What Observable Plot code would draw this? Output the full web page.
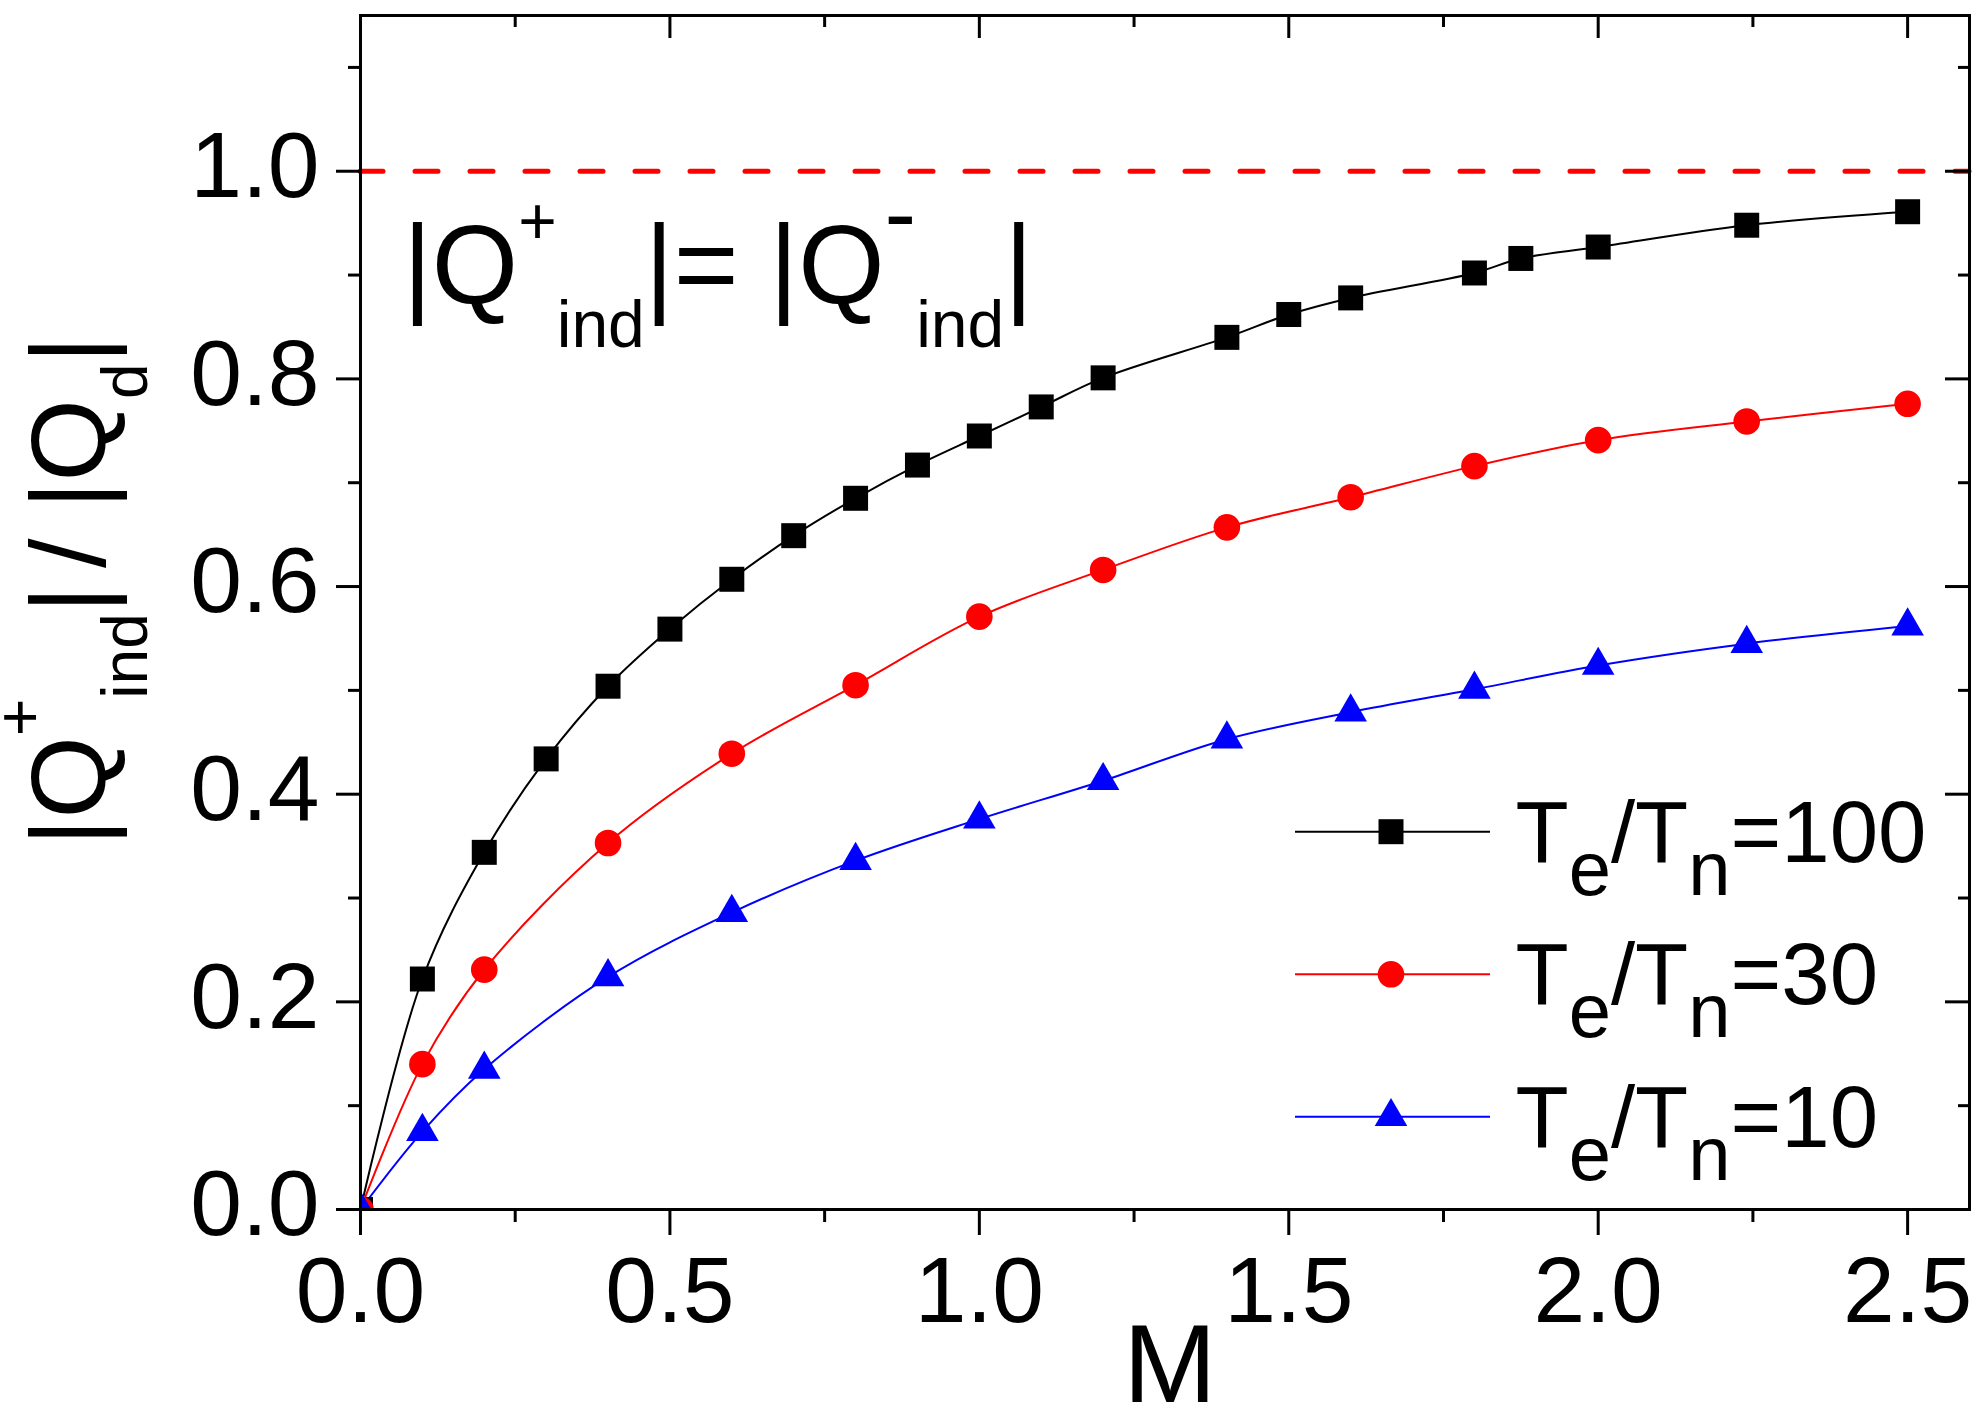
<!DOCTYPE html>
<html><head><meta charset="utf-8">
<script src="https://cdn.jsdelivr.net/npm/d3@7"></script>
<script src="https://cdn.jsdelivr.net/npm/@observablehq/plot@0.6"></script>
<style>html,body{margin:0;padding:0;background:#fff}</style>
</head><body><div id="chart"></div>
<script>
// ---- data ----
const M_100 = [0, 0.1, 0.2, 0.3, 0.4, 0.5, 0.6, 0.7, 0.8, 0.9, 1.0, 1.1, 1.2, 1.4, 1.5, 1.6, 1.8, 1.875, 2.0, 2.24, 2.5];
const Q_100 = [0, 0.222, 0.344, 0.434, 0.504, 0.559, 0.607, 0.649, 0.685, 0.717, 0.745, 0.773, 0.801, 0.840, 0.862, 0.878, 0.902, 0.916, 0.927, 0.948, 0.961];
const M_30 = [0, 0.1, 0.2, 0.4, 0.6, 0.8, 1.0, 1.2, 1.4, 1.6, 1.8, 2.0, 2.24, 2.5];
const Q_30 = [0, 0.140, 0.231, 0.353, 0.439, 0.505, 0.571, 0.616, 0.657, 0.686, 0.716, 0.741, 0.759, 0.776];
const M_10 = [0, 0.1, 0.2, 0.4, 0.6, 0.8, 1.0, 1.2, 1.4, 1.6, 1.8, 2.0, 2.24, 2.5];
const Q_10 = [0, 0.075, 0.135, 0.224, 0.286, 0.336, 0.376, 0.413, 0.453, 0.479, 0.501, 0.524, 0.545, 0.562];
const seriesRatio = ["100", "30", "10"];
const seriesColors = ["#000000", "#ff0000", "#0000ff"];
const seriesSymbols = ["square", "circle", "triangle"];
const seriesRadius = [14.1, 13.3, 12.1];
const xMajorTicks = [0, 0.5, 1.0, 1.5, 2.0, 2.5];
const xMinorTicks = [0.25, 0.75, 1.25, 1.75, 2.25];
const yMajorTicks = [0, 0.2, 0.4, 0.6, 0.8, 1.0];
const yMinorTicks = [0.1, 0.3, 0.5, 0.7, 0.9, 1.1];
const thresholdLine = [1.0];

const toRows = (ms, qs) => ms.map((m, i) => ({M: m, Q: qs[i]}));
const series = [toRows(M_100, Q_100), toRows(M_30, Q_30), toRows(M_10, Q_10)];

const FONT = "'Liberation Sans', Arial, Helvetica, sans-serif";
const W = 1976, H = 1408;
const mL = 360, mR = 7, mT = 15, mB = 199;
const innerW = W - mL - mR, innerH = H - mT - mB;

const marks = [];
marks.push(Plot.ruleY(thresholdLine, {y: d => d, stroke: "#ff0000", strokeWidth: 5, strokeDasharray: "23,32", strokeLinecap: "round"}));
series.forEach((rows, i) => {
  marks.push(Plot.line(rows, {x: "M", y: "Q", stroke: seriesColors[i], strokeWidth: 2, curve: "catmull-rom", clip: true}));
});
series.forEach((rows, i) => {
  marks.push(Plot.dot(rows, {x: "M", y: "Q", symbol: seriesSymbols[i], r: seriesRadius[i], fill: seriesColors[i], stroke: "none", clip: true}));
});
// axes: outward ticks on bottom/left
marks.push(
  Plot.axisX(xMajorTicks, {anchor: "bottom", tickSize: 26, strokeWidth: 3, fill: "none", label: null}),
  Plot.axisX(xMinorTicks, {anchor: "bottom", tickSize: 13, strokeWidth: 3, fill: "none", label: null}),
  Plot.axisX(xMajorTicks, {anchor: "bottom", tickSize: 0, tickPadding: 46, fontSize: 93, tickFormat: ".1f", label: null, fill: "black"}),
  Plot.axisY(yMajorTicks, {anchor: "left", tickSize: 24, strokeWidth: 3, fill: "none", label: null}),
  Plot.axisY(yMinorTicks, {anchor: "left", tickSize: 12, strokeWidth: 3, fill: "none", label: null}),
  Plot.axisY(yMajorTicks, {anchor: "left", tickSize: 0, tickPadding: 41, fontSize: 93, dy: -4, tickFormat: ".1f", label: null, fill: "black"}),
  // inward ticks on top/right
  Plot.ruleX(xMajorTicks, {x: d => d, insetBottom: innerH - 23, strokeWidth: 3}),
  Plot.ruleX(xMinorTicks, {x: d => d, insetBottom: innerH - 12, strokeWidth: 3}),
  Plot.ruleY(yMajorTicks, {y: d => d, insetLeft: innerW - 24, strokeWidth: 3}),
  Plot.ruleY(yMinorTicks, {y: d => d, insetLeft: innerW - 11, strokeWidth: 3}),
  Plot.frame({stroke: "black", strokeWidth: 3})
);

const plot = Plot.plot({
  width: W, height: H,
  marginLeft: mL, marginRight: mR, marginTop: mT, marginBottom: mB,
  style: {fontFamily: FONT, background: "white", color: "black", overflow: "visible"},
  x: {domain: [0, 2.6]},
  y: {domain: [0, 1.15]},
  marks
});

const svg = d3.select(plot);

function rich(textSel, parts) {
  let prev = 0;
  for (const [t, size, shift] of parts) {
    textSel.append("tspan").attr("font-size", size).attr("dy", shift - prev).text(t);
    prev = shift;
  }
  return textSel;
}
function newText(g, anchor = "start") {
  return g.append("text").attr("font-family", FONT).attr("fill", "black")
    .attr("text-anchor", anchor).style("white-space", "pre");
}

const g = svg.append("g").attr("text-anchor", "start");

// annotation inside the plot
rich(newText(g).attr("x", 403).attr("y", 302.5),
  [["|Q", 111, 0], ["+", 66, -58.5], ["ind", 66, 44], ["|= |Q", 111, 0], ["-", 95, -57.5], ["ind", 66, 44], ["|", 111, 0]]);

// y-axis title (rotated)
rich(newText(g).attr("transform", "translate(104.7,846) rotate(-90)"),
  [["|Q", 106, 0], ["+", 64, -63], ["ind", 64, 42], ["|", 106, 0], [" ", 64, 0], ["/ |Q", 106, 0], ["d", 64, 42], ["|", 106, 0]]);

// x-axis title
newText(g, "middle").attr("x", 1170).attr("y", 1402).attr("font-size", 112).text("M");

// legend
const legendRowY = [831.7, 974.3, 1116.7];
seriesRatio.forEach((ratio, i) => {
  const y = legendRowY[i];
  g.append("line").attr("x1", 1295).attr("x2", 1490).attr("y1", y).attr("y2", y)
    .attr("stroke", seriesColors[i]).attr("stroke-width", 2);
  const sym = {square: d3.symbolSquare, circle: d3.symbolCircle, triangle: d3.symbolTriangle}[seriesSymbols[i]];
  g.append("path").attr("transform", `translate(1391,${y})`)
    .attr("d", d3.symbol(sym, Math.PI * seriesRadius[i] ** 2)())
    .attr("fill", seriesColors[i]);
  rich(newText(g).attr("x", 1515.5).attr("y", y + 30),
    [["T", 87, 0], ["e", 76, 33], ["/T", 87, 0], ["n", 76, 33], ["=" + ratio, 87, 0]]);
});

document.getElementById("chart").appendChild(plot);
</script>
</body></html>
